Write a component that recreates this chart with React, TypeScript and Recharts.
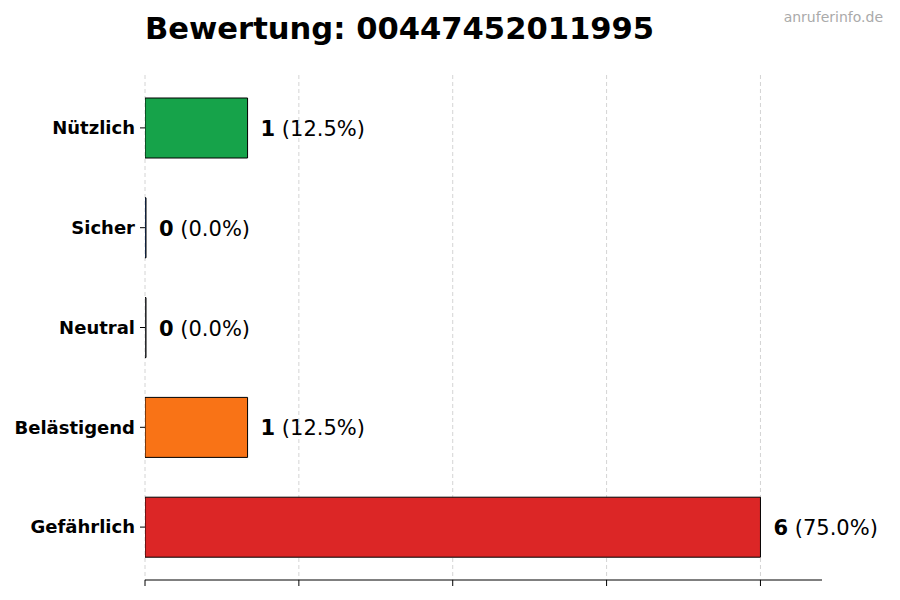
import React from 'react';
import { BarChart, Bar, XAxis, YAxis, CartesianGrid, Cell } from 'recharts';

const categories = ['Nützlich', 'Sicher', 'Neutral', 'Belästigend', 'Gefährlich'];
const counts = [1, 0, 0, 1, 6];
const barColors = ['#16a34a', '#3b82f6', '#9ca3af', '#f97316', '#dc2626'];
const xTicks = [0, 1.5, 3, 4.5, 6];

const total = counts.reduce((a, b) => a + b, 0);
const data = categories.map((name, i) => ({
  name,
  count: counts[i],
  pct: total ? (counts[i] / total) * 100 : 0,
}));

const FONT = '"DejaVu Sans", sans-serif';

const ValueLabel = (props: any) => {
  const { x, y, width, height, index } = props;
  const d = data[index];
  return (
    <text
      x={x + width + 13}
      y={y + height / 2 + 1}
      dominantBaseline="central"
      fontSize={21}
      fontFamily={FONT}
      fill="#000"
    >
      <tspan fontWeight="bold">{d.count}</tspan>
      <tspan> ({d.pct.toFixed(1)}%)</tspan>
    </text>
  );
};

const App: React.FC = () => {
  return (
    <div style={{ position: 'absolute', left: 0, top: 0, width: 900, height: 600, background: '#fff', fontFamily: FONT }}>
      <div style={{ position: 'absolute', left: 145, top: 11, fontSize: 30.6, fontWeight: 'bold', color: '#000', lineHeight: '36px', whiteSpace: 'nowrap' }}>
        Bewertung: 00447452011995
      </div>
      <div style={{ position: 'absolute', right: 17, top: 9, fontSize: 14, color: '#aaaaaa', whiteSpace: 'nowrap' }}>
        anruferinfo.de
      </div>
      <BarChart
        width={900}
        height={600}
        data={data}
        layout="vertical"
        margin={{ top: 75, right: 78, bottom: 0, left: 0 }}
        barCategoryGap={0}
        style={{ fontFamily: FONT }}
      >
        <CartesianGrid horizontal={false} syncWithTicks stroke="#d4d4d4" strokeDasharray="4 3" />
        <XAxis
          type="number"
          domain={[0, 6.6]}
          ticks={xTicks}
          tickFormatter={() => ''}
          tickSize={6}
          height={20}
          stroke="#000"
          axisLine={{ stroke: '#000' }}
          tickLine={{ stroke: '#000' }}
          allowDataOverflow
        />
        <YAxis
          type="category"
          dataKey="name"
          width={145}
          axisLine={false}
          tickLine={{ stroke: '#000' }}
          tickSize={5}
          tickMargin={5}
          padding={{ top: 3, bottom: 3 }}
          tick={{ fontSize: 18, fontWeight: 'bold', fill: '#000', fontFamily: FONT }}
        />
        <Bar
          dataKey="count"
          barSize={60}
          stroke="#000"
          strokeWidth={1}
          minPointSize={1}
          isAnimationActive={false}
          label={<ValueLabel />}
        >
          {data.map((entry, i) => (
            <Cell key={`cell-${entry.name}`} fill={barColors[i]} />
          ))}
        </Bar>
      </BarChart>
    </div>
  );
};

export default App;
